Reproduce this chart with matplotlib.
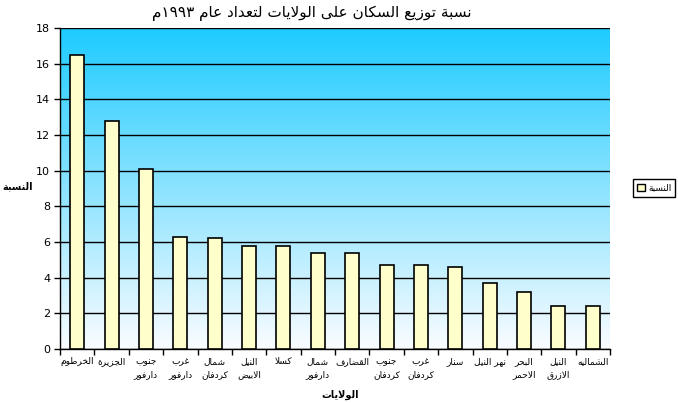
import re
import numpy as np
import matplotlib
matplotlib.use("Agg")
import matplotlib.pyplot as plt
from matplotlib.patches import Patch

# ---------------- data ----------------
categories = ["الخرطوم", "الجزيرة", "جنوب\nدارفور", "غرب\nدارفور", "شمال\nكردفان",
              "النيل\nالابيض", "كسلا", "شمال\nدارفور", "القضارف", "جنوب\nكردفان",
              "غرب\nكردفان", "سنار", "نهر النيل", "البحر\nالاحمر", "النيل\nالازرق", "الشماليه"]
values = [16.5, 12.8, 10.1, 6.3, 6.2, 5.8, 5.8, 5.4, 5.4, 4.7, 4.7, 4.6, 3.7, 3.2, 2.4, 2.4]
yticks = [0, 2, 4, 6, 8, 10, 12, 14, 16, 18]
title = "نسبة توزيع السكان على الولايات لتعداد عام ١٩٩٣م"
series_name = "النسبة"
xlabel = "الولايات"
ylabel = "النسبة"

# ------------- minimal Arabic shaping + visual ordering -------------
_AR = {'ا': (0xFE8D, 2), 'ب': (0xFE8F, 4), 'ة': (0xFE93, 2), 'ت': (0xFE95, 4), 'ث': (0xFE99, 4),
       'ج': (0xFE9D, 4), 'ح': (0xFEA1, 4), 'خ': (0xFEA5, 4), 'د': (0xFEA9, 2), 'ذ': (0xFEAB, 2),
       'ر': (0xFEAD, 2), 'ز': (0xFEAF, 2), 'س': (0xFEB1, 4), 'ش': (0xFEB5, 4), 'ص': (0xFEB9, 4),
       'ض': (0xFEBD, 4), 'ط': (0xFEC1, 4), 'ظ': (0xFEC5, 4), 'ع': (0xFEC9, 4), 'غ': (0xFECD, 4),
       'ف': (0xFED1, 4), 'ق': (0xFED5, 4), 'ك': (0xFED9, 4), 'ل': (0xFEDD, 4), 'م': (0xFEE1, 4),
       'ن': (0xFEE5, 4), 'ه': (0xFEE9, 4), 'و': (0xFEED, 2), 'ى': (0xFEEF, 2), 'ي': (0xFEF1, 4)}


def _shape(word):
    chars = []
    i = 0
    while i < len(word):
        if word[i] == 'ل' and i + 1 < len(word) and word[i + 1] == 'ا':
            chars.append('LA')
            i += 2
        else:
            chars.append(word[i])
            i += 1

    def dual(x):
        return x is not None and x in _AR and _AR[x][1] == 4

    def arab(x):
        return x is not None and (x in _AR or x == 'LA')

    out = []
    for k, c in enumerate(chars):
        prev = chars[k - 1] if k > 0 else None
        nxt = chars[k + 1] if k + 1 < len(chars) else None
        jp = dual(prev)
        if c == 'LA':
            out.append(chr(0xFEFC if jp else 0xFEFB))
            continue
        if c not in _AR:
            out.append(c)
            continue
        base, n = _AR[c]
        jn = n == 4 and arab(nxt)
        if jp and jn:
            out.append(chr(base + 3))
        elif jp:
            out.append(chr(base + 1))
        elif jn:
            out.append(chr(base + 2))
        else:
            out.append(chr(base))
    return ''.join(out)


def ar(text):
    lines = []
    for line in text.split('\n'):
        s = _shape(line)[::-1]
        s = re.sub(r'[0-9\u0660-\u0669]+', lambda m: m.group(0)[::-1], s)
        lines.append(s)
    return '\n'.join(lines)


plt.rcParams['font.family'] = ['DejaVu Sans']

fig = plt.figure(figsize=(6.78, 4.03), dpi=100)
fig.patch.set_facecolor('white')
ax = fig.add_axes([60 / 678, 54 / 403, 550 / 678, 321 / 403])

x = np.arange(len(categories))
ax.set_xlim(-0.5, len(categories) - 0.5)
ax.set_ylim(0, 18)

# gradient background
grad = np.linspace(0, 1, 256).reshape(-1, 1)
top = np.array([30, 203, 255]) / 255.0
bot = np.array([250, 252, 255]) / 255.0
img = top[None, None, :] * (1 - grad[:, :, None]) + bot[None, None, :] * grad[:, :, None]
ax.imshow(img, extent=[-0.5, len(categories) - 0.5, 0, 18], aspect='auto',
          origin='upper', zorder=0, interpolation='bilinear')

ax.set_yticks(yticks)
ax.yaxis.grid(True, color='black', linewidth=1.0, zorder=1)
ax.set_axisbelow(True)

ax.bar(x, values, width=0.41, color='#FFFFCC', edgecolor='black', linewidth=1.2, zorder=3)

for s in ['top', 'right']:
    ax.spines[s].set_visible(False)
for s in ['left', 'bottom']:
    ax.spines[s].set_linewidth(1.0)
    ax.spines[s].set_color('black')

ax.set_xticks(np.arange(-0.5, len(categories), 1.0), minor=False)
ax.set_xticklabels([])
ax.tick_params(axis='x', which='major', direction='out', length=4, width=1, color='black')
ax.set_xticks(x, minor=True)
ax.set_xticklabels([ar(c) for c in categories], minor=True, fontsize=6.5, linespacing=1.5,
                   va='top')
ax.tick_params(axis='x', which='minor', length=0, pad=6)
ax.tick_params(axis='y', direction='out', length=4, width=1, labelsize=8, pad=3)

fig.text(312 / 678, 1 - 13 / 403, ar(title), fontsize=11, ha='center', va='center')
fig.text(340 / 678, 1 - 395 / 403, ar(xlabel), fontsize=7, fontweight='bold',
         ha='center', va='center')
fig.text(18 / 678, 1 - 186 / 403, ar(ylabel), fontsize=7, fontweight='bold',
         ha='center', va='center')

handle = Patch(facecolor='#FFFFCC', edgecolor='black', linewidth=1.0)
leg = fig.legend([handle], [ar(series_name)], loc='center left',
                 bbox_to_anchor=(633 / 678, 1 - 188 / 403), fontsize=6.5,
                 fancybox=False, framealpha=1, edgecolor='black',
                 handlelength=0.9, handleheight=0.9, handletextpad=0.3,
                 borderpad=0.45, borderaxespad=0)
leg.get_frame().set_linewidth(1.0)

fig.savefig('out.png', dpi=100)
